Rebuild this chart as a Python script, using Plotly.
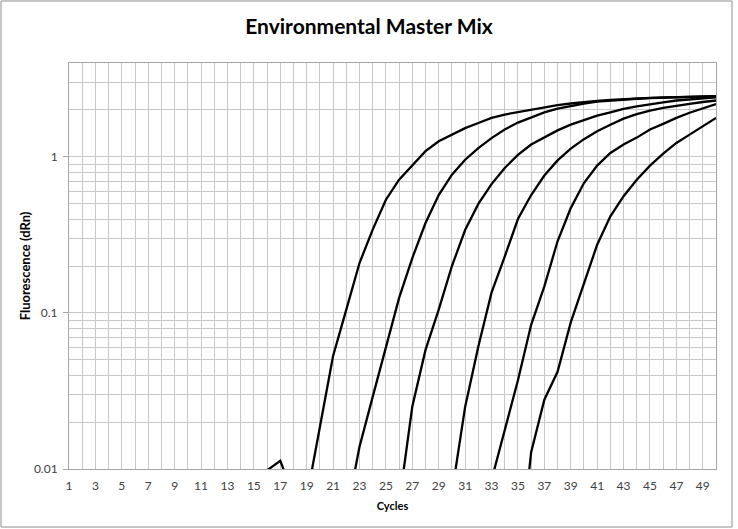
import plotly.graph_objects as go

cycles = list(range(1, 51))

def pad(start, vals):
    # values begin at cycle `start`; earlier cycles have no visible data
    return [None] * (start - 1) + vals

curve1 = pad(15, [0.004, 0.0098, 0.0113, 0.0068, 0.0065, 0.019, 0.053, 0.105, 0.209, 0.342,
                  0.532, 0.715, 0.88, 1.09, 1.26, 1.39, 1.53, 1.65, 1.78, 1.87,
                  1.94, 2.02, 2.09, 2.15, 2.20, 2.25, 2.29, 2.32, 2.35, 2.37,
                  2.39, 2.41, 2.42, 2.43, 2.44, 2.44])
curve2 = pad(22, [0.005, 0.0139, 0.029, 0.06, 0.125, 0.225, 0.377, 0.57, 0.77, 0.96,
                  1.14, 1.32, 1.50, 1.66, 1.80, 1.93, 2.04, 2.13, 2.20, 2.26,
                  2.30, 2.33, 2.36, 2.38, 2.40, 2.42, 2.43, 2.44, 2.45])
curve3 = pad(26, [0.006, 0.0252, 0.058, 0.105, 0.20, 0.34, 0.50, 0.67, 0.85, 1.03,
                  1.20, 1.34, 1.48, 1.61, 1.73, 1.84, 1.93, 2.03, 2.11, 2.18,
                  2.24, 2.30, 2.34, 2.38, 2.41])
curve4 = pad(30, [0.007, 0.025, 0.061, 0.135, 0.23, 0.40, 0.57, 0.76, 0.95, 1.13,
                  1.30, 1.46, 1.61, 1.76, 1.88, 1.98, 2.06, 2.13, 2.19, 2.25, 2.30])
curve5 = pad(33, [0.0085, 0.0179, 0.037, 0.084, 0.148, 0.288, 0.47, 0.68, 0.88, 1.06,
                  1.20, 1.33, 1.50, 1.63, 1.78, 1.92, 2.05, 2.18])
curve6 = pad(35, [0.002, 0.0128, 0.0278, 0.042, 0.087, 0.155, 0.274, 0.416, 0.56, 0.715,
                  0.88, 1.05, 1.23, 1.39, 1.57, 1.78])

series = [curve1, curve2, curve3, curve4, curve5, curve6]

x_ticks = list(range(1, 51, 2))
x_ticktext = [str(v) for v in x_ticks]
y_ticks = [0.01, 0.1, 1]
y_ticktext = ["0.01", "0.1", "1"]
y_minor = [m * 10 ** e for e in (-2, -1, 0) for m in range(2, 10)]
y_minor = [v for v in y_minor if v <= 4.0001]

fig = go.Figure()
for s in series:
    fig.add_trace(go.Scatter(x=cycles, y=s, mode="lines",
                             line=dict(color="black", width=2.3),
                             connectgaps=False, showlegend=False, hoverinfo="skip"))

grid = "#c8c8c8"
fig.update_layout(
    width=738, height=529,
    margin=dict(l=69, r=22, t=63, b=60, autoexpand=False),
    paper_bgcolor="white", plot_bgcolor="white",
    font=dict(family="Lato, Open Sans, sans-serif", size=11, color="#404040"),
    title=dict(text="<b>Environmental Master Mix</b>", x=0.5, xanchor="center",
               xref="container",
               y=0.949, yref="container", yanchor="middle",
               font=dict(family="Lato, Open Sans, sans-serif", size=21, color="black")),
    showlegend=False,
)
fig.update_xaxes(
    range=[1, 50], tickmode="array", tickvals=x_ticks, ticktext=x_ticktext,
    showgrid=True, gridcolor=grid, gridwidth=1,
    minor=dict(dtick=1, tick0=1, showgrid=True, gridcolor=grid, gridwidth=1),
    showline=True, linecolor="#a6a6a6", linewidth=1, mirror=True,
    ticks="", zeroline=False, ticklabelstandoff=6,
    tickfont=dict(size=12, color="#404040"),
    title=dict(text="<b>Cycles</b>", font=dict(size=11, color="black"), standoff=9),
)
fig.update_yaxes(
    type="log", range=[-2, 0.60206],
    tickmode="array", tickvals=y_ticks, ticktext=y_ticktext,
    showgrid=True, gridcolor=grid, gridwidth=1,
    minor=dict(tickmode="array", tickvals=y_minor, showgrid=True, gridcolor=grid,
               gridwidth=1, ticks=""),
    showline=True, linecolor="#a6a6a6", linewidth=1, mirror=True,
    ticks="outside", ticklen=5, tickcolor="#a6a6a6", ticklabelstandoff=3,
    tickfont=dict(size=12, color="#404040"),
    title=dict(text="<b>Fluorescence (dRn)</b>", font=dict(size=13, color="black"), standoff=0),
    zeroline=False,
)
# chart-area border (pixels 1..732 x 1..527 of the page)
fig.add_shape(type="rect", xref="paper", yref="paper",
              x0=(1 - 69) / 647, x1=(732 - 69) / 647,
              y0=(469 - 527) / 406, y1=(469 - 1) / 406,
              line=dict(color="#8c8c8c", width=1), fillcolor="rgba(0,0,0,0)", layer="below")

fig.write_html("out.html", config={"displayModeBar": False},
               post_script="document.body.style.margin='0';document.body.style.padding='0';")
